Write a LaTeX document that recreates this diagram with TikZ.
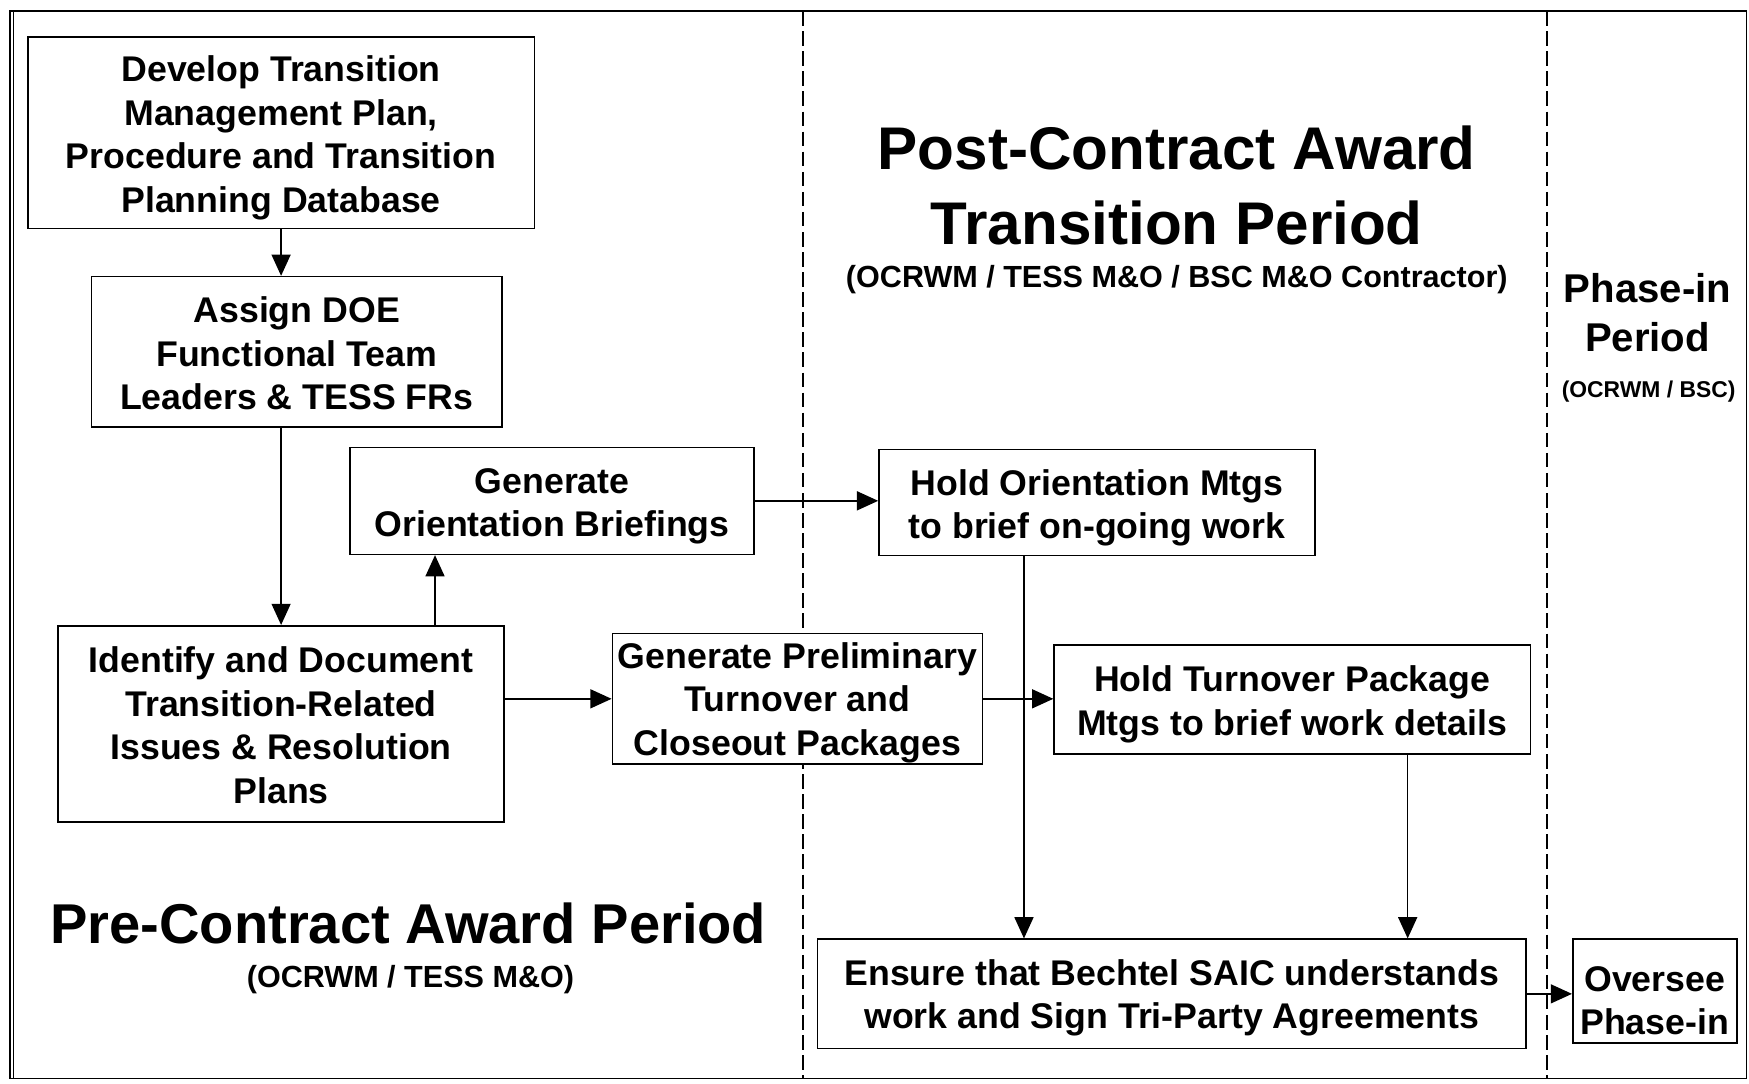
\documentclass[tikz,border=0pt]{standalone}
\usepackage{fontspec}
\setmainfont{Liberation Sans}
\usetikzlibrary{arrows.meta}
\newcommand{\bxtext}[2]{\raisebox{-#1}[\height][\depth]{\begin{tabular}{@{}c@{}}#2\end{tabular}}}
\tikzset{
  boxnode/.style={draw, line width=1.4pt, fill=white, inner sep=0pt,
    font=\fontsize{32}{39}\selectfont\bfseries},
  arr/.style={line width=1.4pt, -{Triangle[length=19pt,width=17pt]}},
  divider/.style={line width=1.2pt, dash pattern=on 13pt off 5pt},
  frame/.style={line width=1.2pt},
  bigtitle/.style={align=center, inner sep=0pt},
}
\begin{document}
\begin{tikzpicture}[x=1pt,y=-1pt]
\useasboundingbox (0,0) rectangle (1568,971);
\draw[frame] (9,10) rectangle (1566,967);
\draw[frame] (12,10) -- (12,967);
\coordinate (d1t) at (720,10);
\coordinate (d1b) at (720,967);
\coordinate (d2t) at (1387,10);
\coordinate (d2b) at (1387,967);
\draw[divider] (d1t) -- (d1b);
\draw[divider] (d2t) -- (d2b);

% titles
\node[bigtitle, font=\fontsize{54}{67}\selectfont\bfseries] (posttitle) at (1055,166) {Post-Contract Award\\Transition Period};
\node[bigtitle, font=\fontsize{27.4}{30}\selectfont\bfseries] (postsub) at (1055,251) {(OCRWM / TESS M\&O / BSC M\&O Contractor)};
\node[bigtitle, font=\fontsize{36}{44}\selectfont\bfseries] (phasetitle) at (1477,280) {Phase-in\\Period};
\node[bigtitle, font=\fontsize{20.5}{24}\selectfont\bfseries] (phasesub) at (1478,351) {(OCRWM / BSC)};
\node[bigtitle, font=\fontsize{50.3}{60}\selectfont\bfseries] (pretitle) at (366,828) {Pre-Contract Award Period};
\node[bigtitle, font=\fontsize{27.4}{30}\selectfont\bfseries] (presub) at (368,878) {(OCRWM / TESS M\&O)};

% boxes
\node[boxnode, minimum width=454pt, minimum height=172pt] (dev) at (252,119)
  {\bxtext{5pt}{Develop Transition\\Management Plan,\\Procedure and Transition\\Planning Database}};
\node[boxnode, minimum width=368pt, minimum height=135pt] (assign) at (266,315.5)
  {\bxtext{5pt}{Assign DOE\\Functional Team\\Leaders \& TESS FRs}};
\node[boxnode, minimum width=362pt, minimum height=96pt] (genor) at (495,449)
  {\bxtext{5pt}{Generate\\Orientation Briefings}};
\node[boxnode, minimum width=400pt, minimum height=176pt] (identify) at (252,649)
  {\bxtext{5pt}{Identify and Document\\Transition-Related\\Issues \& Resolution\\Plans}};
\node[boxnode, minimum width=332pt, minimum height=117pt] (prelim) at (715,626.5)
  {\bxtext{4pt}{Generate Preliminary\\Turnover and\\Closeout Packages}};
\node[boxnode, minimum width=391pt, minimum height=95pt] (holdor) at (983.5,450.5)
  {\bxtext{5pt}{Hold Orientation Mtgs\\to brief on-going work}};
\node[boxnode, minimum width=427pt, minimum height=98pt] (holdto) at (1158.5,627)
  {\bxtext{5pt}{Hold Turnover Package\\Mtgs to brief work details}};
\node[boxnode, minimum width=635pt, minimum height=98pt] (ensure) at (1050.5,891)
  {\bxtext{4pt}{Ensure that Bechtel SAIC understands\\work and Sign Tri-Party Agreements}};
\node[boxnode, minimum width=147pt, minimum height=93pt] (oversee) at (1483.5,888.5)
  {\bxtext{12pt}{Oversee\\Phase-in}};

% connectors
\draw[arr] (dev.south) -- (dev.south |- assign.north);
\draw[arr] (identify.north |- assign.south) -- (identify.north);
\draw[arr] (identify.north -| 390,0) -- (genor.south -| 390,0);
\draw[arr] (genor.east) -- (genor.east -| holdor.west);
\draw[arr] (prelim.west -| identify.east) -- (prelim.west);
\draw[arr] (prelim.east) -- (prelim.east -| holdto.west);
\draw[arr] (holdor.south -| 918,0) -- (ensure.north -| 918,0);
\draw[arr] (holdto.south -| 1262,0) -- (ensure.north -| 1262,0);
\draw[arr] (ensure.east) -- (ensure.east -| oversee.west);
\end{tikzpicture}
\end{document}
